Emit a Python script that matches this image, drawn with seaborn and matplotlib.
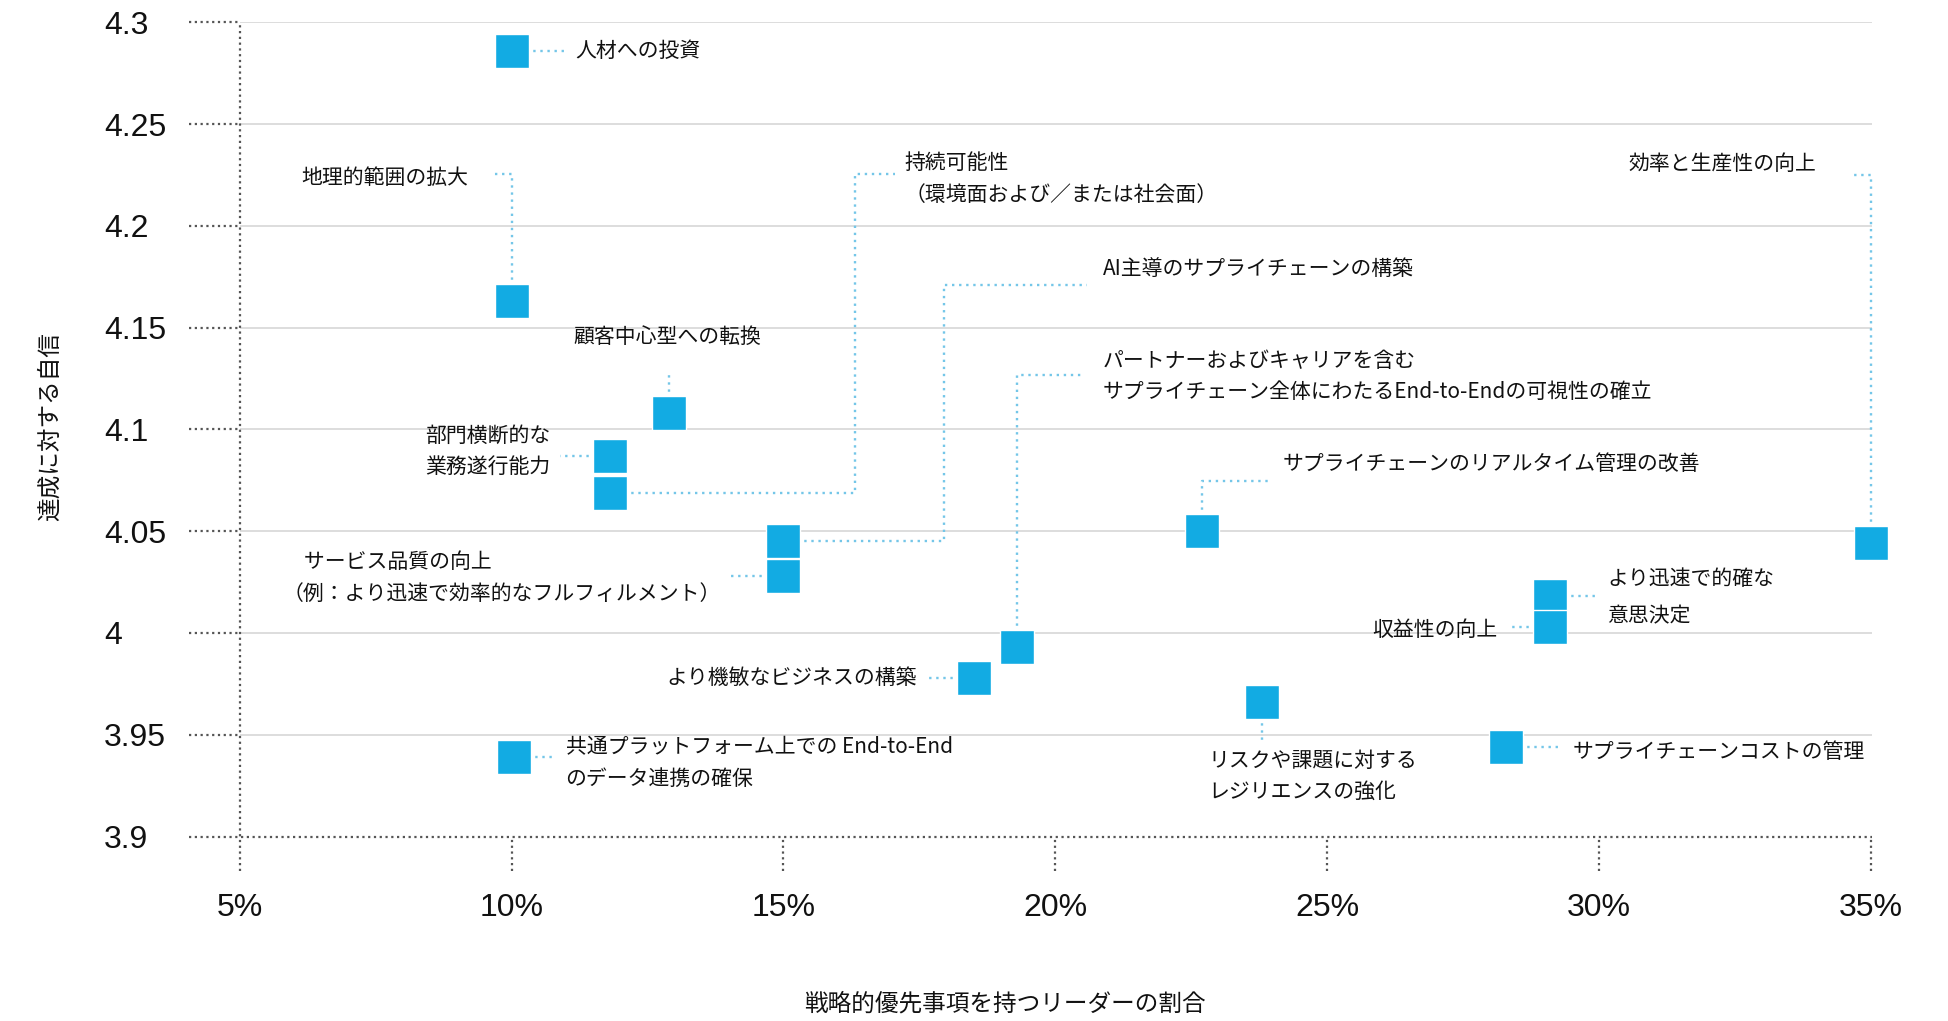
import matplotlib
matplotlib.use("Agg")
import matplotlib.pyplot as plt
from matplotlib import font_manager
import pandas as pd
import seaborn as sns

# ---- data -------------------------------------------------------------
priorities = [
    "人材への投資",
    "地理的範囲の拡大",
    "顧客中心型への転換",
    "部門横断的な\n業務遂行能力",
    "持続可能性\n（環境面および／または社会面）",
    "AI主導のサプライチェーンの構築",
    "\u3000サービス品質の向上\n（例：より迅速で効率的なフルフィルメント）",
    "パートナーおよびキャリアを含む\nサプライチェーン全体にわたるEnd-to-Endの可視性の確立",
    "より機敏なビジネスの構築",
    "サプライチェーンのリアルタイム管理の改善",
    "リスクや課題に対する\nレジリエンスの強化",
    "より迅速で的確な\n意思決定",
    "収益性の向上",
    "サプライチェーンコストの管理",
    "効率と生産性の向上",
    "共通プラットフォーム上での End-to-End\nのデータ連携の確保",
]
share_pct = [10.0, 10.0, 12.9, 11.8, 11.8, 15.0, 15.0, 19.3,
             18.5, 22.7, 23.8, 29.1, 29.1, 28.3, 35.0, 10.05]
confidence = [4.286, 4.163, 4.108, 4.087, 4.069, 4.045, 4.028, 3.993,
              3.978, 4.050, 3.966, 4.018, 4.003, 3.944, 4.044, 3.939]

x_ticks = [5, 10, 15, 20, 25, 30, 35]
x_tick_labels = ["5%", "10%", "15%", "20%", "25%", "30%", "35%"]
y_ticks = [3.9, 3.95, 4.0, 4.05, 4.1, 4.15, 4.2, 4.25, 4.3]
y_tick_labels = ["3.9", "3.95", "4", "4.05", "4.1", "4.15", "4.2", "4.25", "4.3"]

x_title = "戦略的優先事項を持つリーダーの割合"
y_title = "達成に対する自信"

# ---- leader-line routing (moves from each marker, then label anchor) ----
leaders = [
    dict(path=[("x", 10.99)], at=(11.17, 4.286), ha="left"),
    dict(path=[("y", 4.2255), ("x", 9.62)], at=(9.21, 4.2237), ha="right"),
    dict(path=[("y", 4.1278)], at=(12.86, 4.1455), ha="center"),
    dict(path=[("x", 10.88)], at=(10.72, 4.0893), ha="right"),
    dict(path=[("x", 16.32), ("y", 4.2255), ("x", 17.05)], at=(17.23, 4.223), ha="left"),
    dict(path=[("x", 17.96), ("y", 4.1711), ("x", 20.59)], at=(20.87, 4.179), ha="left"),
    dict(path=[("x", 14.03)], at=(13.85, 4.027), ha="right"),
    dict(path=[("y", 4.1266), ("x", 20.55)], at=(20.87, 4.126), ha="left"),
    dict(path=[("x", 17.62)], at=(17.46, 3.978), ha="right"),
    dict(path=[("y", 4.0747), ("x", 23.95)], at=(24.18, 4.0832), ha="left"),
    dict(path=[("y", 3.9458)], at=(22.81, 3.9296), ha="left"),
    dict(path=[("x", 29.97)], at=(30.15, 4.0173), ha="left", ls=1.9),
    dict(path=[("x", 28.36)], at=(28.14, 4.0014), ha="right"),
    dict(path=[("x", 29.28)], at=(29.51, 3.9415), ha="left"),
    dict(path=[("y", 4.2249), ("x", 34.65)], at=(34.01, 4.2304), ha="right"),
    dict(path=[("x", 10.81)], at=(10.99, 3.936), ha="left"),
]

# ---- style ------------------------------------------------------------
sns.set_theme(style="white")
plt.rcParams["font.family"] = ["Noto Sans CJK JP", "DejaVu Sans"]
installed = {f.name for f in font_manager.fontManager.ttflist}
num_font = "Liberation Sans Narrow" if "Liberation Sans Narrow" in installed else "Liberation Sans"

BLUE = "#12abe3"
LEADER = "#74c6e8"
AXIS = "#555555"
GRID = "#dddddd"

fig = plt.figure(figsize=(19.49, 10.21), dpi=100)
ax = fig.add_axes([0.1231, 0.1807, 0.9606 - 0.1231, 0.978 - 0.1807])

df = pd.DataFrame({"priority": priorities, "share": share_pct, "confidence": confidence})

sns.scatterplot(data=df, x="share", y="confidence", marker="s", s=570,
                color=BLUE, edgecolor="white", linewidth=1.0, ax=ax,
                zorder=5, legend=False)
for coll in ax.collections:
    coll.set_clip_on(False)

ax.set_xlim(5, 35.03)
ax.set_ylim(3.9, 4.3)
ax.set_xticks(x_ticks, x_tick_labels)
ax.set_yticks(y_ticks, y_tick_labels)
for s in ax.spines.values():
    s.set_visible(False)

# light horizontal grid
for yv in y_ticks[1:]:
    ax.axhline(yv, color=GRID, lw=1.4, zorder=0)

# dark dotted axis lines and tick extensions
xt = ax.get_xaxis_transform()
yt = ax.get_yaxis_transform()
dot = dict(color=AXIS, lw=1.6, ls=(0, (1, 1.6)), clip_on=False, zorder=2)
ax.plot([5, 5], [-0.042, 1.0], transform=xt, **dot)
ax.plot([-0.031, 1.0], [3.9, 3.9], transform=yt, **dot)
for yv in y_ticks[1:]:
    ax.plot([-0.031, 0.0], [yv, yv], transform=yt, **dot)
for xv in x_ticks[1:]:
    ax.plot([xv, xv], [-0.042, 0.0], transform=xt, **dot)

ax.tick_params(axis="both", length=0)
ax.tick_params(axis="y", pad=98)
ax.tick_params(axis="x", pad=41)
for lab in ax.get_yticklabels():
    lab.set_horizontalalignment("left")
    lab.set_fontfamily(num_font)
    lab.set_fontsize(23)
    lab.set_color("#111111")
for lab in ax.get_xticklabels():
    lab.set_fontfamily(num_font)
    lab.set_fontsize(23)
    lab.set_color("#111111")

ax.set_xlabel(x_title, fontsize=17, color="#111111")
ax.set_ylabel(y_title, fontsize=17, color="#111111")
ax.xaxis.set_label_coords(0.4686, -0.206)
ax.xaxis.label.set_verticalalignment("center")
ax.yaxis.set_label_coords(-0.116, 0.504)
ax.yaxis.label.set_verticalalignment("center")

# leader lines and labels
leader_style = dict(color=LEADER, lw=1.7, ls=(0, (1, 2)), zorder=3, clip_on=False)
for name, x0, y0, lead in zip(priorities, share_pct, confidence, leaders):
    xs, ys = [x0], [y0]
    for axis_name, v in lead["path"]:
        if axis_name == "x":
            xs.append(v)
            ys.append(ys[-1])
        else:
            xs.append(xs[-1])
            ys.append(v)
    ax.plot(xs, ys, **leader_style)
    tx, ty = lead["at"]
    ax.text(tx, ty, name, ha=lead["ha"], va="center", fontsize=15,
            color="#111111", linespacing=lead.get("ls", 1.55),
            multialignment="left", zorder=6)

fig.savefig("out.png", dpi=100, facecolor="white")
